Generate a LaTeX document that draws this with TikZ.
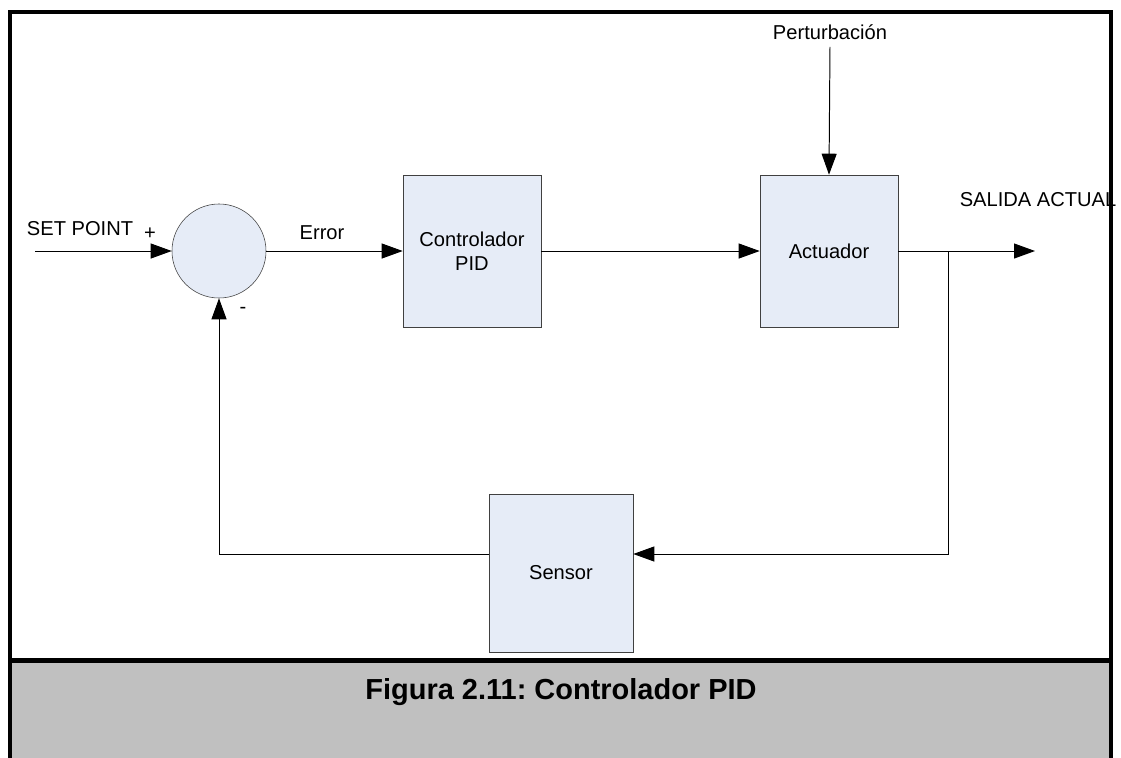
\documentclass[tikz,border=0pt]{standalone}
\usepackage{fontspec}
\setmainfont{Liberation Sans}
\usetikzlibrary{arrows.meta}
\definecolor{azulbloque}{HTML}{E6ECF7}
\definecolor{gris}{HTML}{C0C0C0}
\newcommand{\etiq}{\fontsize{14.3}{17}\selectfont}
\frenchspacing

\begin{document}
\begin{tikzpicture}[x=0.025cm,y=-0.025cm,
    bloque/.style={draw=black!75, fill=azulbloque, minimum width=3.45cm, minimum height=3.8cm, align=center, font=\etiq},
    sumador/.style={circle, draw=black!75, fill=azulbloque, minimum size=2.35cm, inner sep=0pt},
    flecha/.style={-{Triangle[length=0.525cm,width=0.375cm]}, line width=0.7pt},
    linea/.style={line width=0.7pt},
    texto/.style={font=\etiq, inner sep=0pt},
]
\useasboundingbox (0,0) rectangle (1121,758);

% marco y pie
\fill[gris] (10,660) rectangle (1111,762);
\draw[line width=2.3pt] (10,762) -- (10,12) -- (1111,12) -- (1111,762);
\draw[line width=3.2pt] (10,660.5) -- (1111,660.5);
\node [font=\fontsize{20.6}{24}\selectfont\bfseries] (pie) at (561,692) {Figura 2.11: Controlador PID};

% bloques
\node [sumador] (S) at (219,251) {};
\node [bloque] (C) at (472,251) {Controlador\\PID};
\node [bloque] (A) at (829,251) {Actuador};
\node [bloque, minimum width=3.6cm, minimum height=3.95cm] (Se) at (561,573) {Sensor};

% textos
\node [texto] (sp) at (80,229) {SET POINT};
\node [texto] (mas) at (150,234) {+};
\node [texto] (menos) at (243,310) {-};
\node [texto] (err) at (322,233) {Error};
\node [texto, inner sep=5pt] (P) at (830,32) {Perturbación};
\node [texto] (sal) at (1038,200) {SALIDA ACTUAL};

\coordinate (in) at (35,251);
\coordinate (rama) at (948,251);
\coordinate (out) at (1035,251);
\coordinate (fb) at (948,554);
\coordinate (fb2) at (219,554);

% conexiones
\draw[flecha] (in) -- (S.west);
\draw[flecha] (S.east) -- (C.west);
\draw[flecha] (C.east) -- (A.west);
\draw[flecha] (P.south) -- (A.north);
\draw[linea] (A.east) -- (rama);
\draw[flecha] (rama) -- (out);
\draw[flecha] (rama) -- (fb) -- (fb -| Se.east);
\draw[flecha] (fb -| Se.west) -- (fb2) -- (S.south);

\end{tikzpicture}
\end{document}
